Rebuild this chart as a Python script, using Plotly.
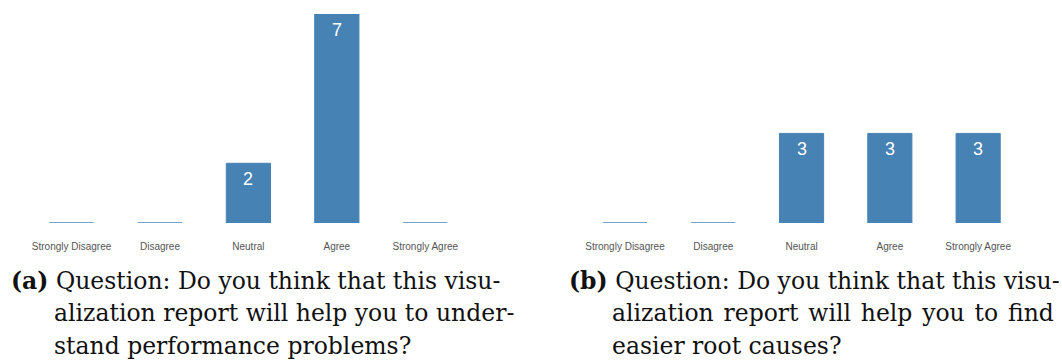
import plotly.graph_objects as go

W, H = 1062, 363

categories = ["Strongly Disagree", "Disagree", "Neutral", "Agree", "Strongly Agree"]
answers_understand = [0, 0, 2, 7, 0]
answers_root_cause = [0, 0, 3, 3, 3]

caption_a = [
    "<b>(a)</b> Question: Do you think that this visu-",
    "alization report will help you to under-",
    "stand performance problems?",
]
caption_b = [
    "<b>(b)</b> Question: Do you think that this visu-",
    " \u200a".join("alization report will help you to find".split()),
    "easier root causes?",
]

BAR = "#4682b4"


def px_x(p):
    return p / W


def px_y(p):
    return (H - p) / H


def bar_trace(values, xa, ya):
    return go.Bar(
        x=categories,
        y=values,
        xaxis=xa,
        yaxis=ya,
        marker=dict(color=BAR, line=dict(color=BAR, width=1)),
        cliponaxis=False,
        showlegend=False,
        hoverinfo="x+y",
    )


def value_labels(values, xa, ya):
    # white count printed just under the top edge of each non-empty bar
    for cat, v in zip(categories, values):
        if not v:
            continue
        fig.add_annotation(
            x=cat,
            y=v,
            xref=xa,
            yref=ya,
            text=str(v),
            showarrow=False,
            yanchor="middle",
            yshift=-16,
            font=dict(family="Liberation Sans, Arial", size=18, color="white"),
        )


fig = go.Figure()
fig.add_trace(bar_trace(answers_understand, "x", "y"))
fig.add_trace(bar_trace(answers_root_cause, "x2", "y2"))
value_labels(answers_understand, "x", "y")
value_labels(answers_root_cause, "x2", "y2")

y_dom = [px_y(223), px_y(14)]
xaxis_style = dict(
    type="category",
    range=[-0.5, 4.5],
    showgrid=False,
    zeroline=False,
    showline=False,
    ticks="outside",
    ticklen=14,
    tickcolor="rgba(0,0,0,0)",
    tickfont=dict(family="Liberation Sans, Arial", size=10, color="#555555"),
    fixedrange=True,
)
yaxis_style = dict(
    range=[0, 7],
    visible=False,
    showgrid=False,
    zeroline=False,
    fixedrange=True,
)

fig.update_layout(
    width=W,
    height=H,
    margin=dict(l=0, r=0, t=0, b=0),
    paper_bgcolor="white",
    plot_bgcolor="white",
    bargap=0.5,
    xaxis=dict(domain=[px_x(27.3), px_x(469.5)], anchor="y", **xaxis_style),
    yaxis=dict(domain=y_dom, anchor="x", **yaxis_style),
    xaxis2=dict(domain=[px_x(580.8), px_x(1022.3)], anchor="y2", **xaxis_style),
    yaxis2=dict(domain=y_dom, anchor="x2", **yaxis_style),
)

caption_font = dict(family="DejaVu Serif", size=23.5, color="#111111")
line_y = [281, 313, 346]


def add_caption(lines, x_first, x_rest):
    for i, (txt, yy) in enumerate(zip(lines, line_y)):
        fig.add_annotation(
            text=txt,
            xref="paper",
            yref="paper",
            x=px_x(x_first if i == 0 else x_rest),
            y=px_y(yy),
            xanchor="left",
            yanchor="middle",
            borderpad=0,
            showarrow=False,
            font=caption_font,
        )


add_caption(caption_a, 10, 53)
add_caption(caption_b, 568, 611)

fig.write_html("out.html")
